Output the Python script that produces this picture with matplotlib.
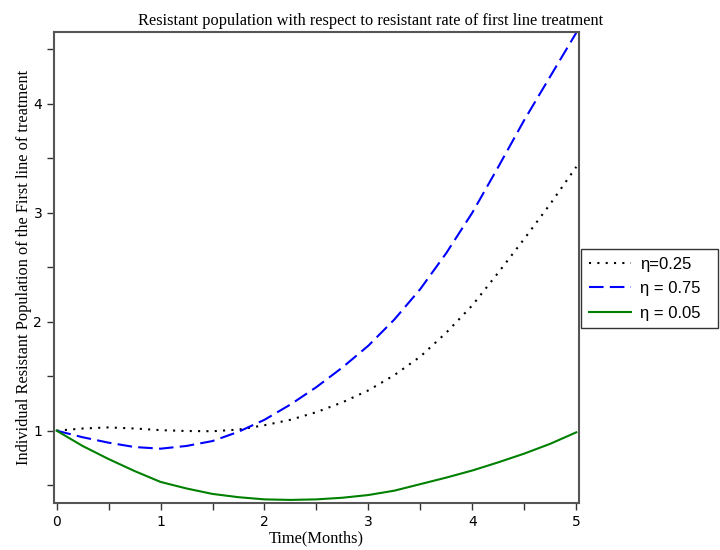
import numpy as np
import matplotlib
matplotlib.use('Agg')
import matplotlib.pyplot as plt
from matplotlib.ticker import MultipleLocator

# values (time in months)
t = [0, 0.25, 0.5, 0.75, 1.0, 1.25, 1.5, 1.75, 2.0, 2.25, 2.5,
     2.75, 3.0, 3.25, 3.5, 3.75, 4.0, 4.25, 4.5, 4.75, 5.0]
eta_025 = [1.00, 1.02, 1.03, 1.02, 1.005, 0.997, 0.995, 1.01, 1.05, 1.10, 1.17,
           1.26, 1.37, 1.51, 1.68, 1.90, 2.15, 2.45, 2.76, 3.08, 3.42]
eta_075 = [1.00, 0.94, 0.89, 0.85, 0.835, 0.86, 0.905, 0.99, 1.10, 1.24, 1.40,
           1.58, 1.78, 2.02, 2.30, 2.63, 3.00, 3.42, 3.85, 4.25, 4.65]
eta_005 = [1.00, 0.86, 0.74, 0.63, 0.53, 0.47, 0.42, 0.39, 0.37, 0.365, 0.37,
           0.385, 0.41, 0.45, 0.51, 0.57, 0.635, 0.71, 0.79, 0.88, 0.985]

serif = 'Liberation Serif'

fig = plt.figure(figsize=(7.2, 5.5), dpi=100)
ax = fig.add_axes([0.075, 0.0855, 0.729, 0.857])

ax.plot(t, eta_025, color='black', lw=1.5, linestyle=(0, (1, 3)), label='η=0.25')
ax.plot(t, eta_075, color='#0000ff', lw=1.5, linestyle=(0, (7, 3)), label='η = 0.75')
ax.plot(t, eta_005, color='#008000', lw=1.5, label='η = 0.05')

ax.set_xlim(-0.025, 5.025)
ax.set_ylim(0.337, 4.66)
ax.xaxis.set_major_locator(MultipleLocator(1))
ax.xaxis.set_minor_locator(MultipleLocator(0.5))
ax.yaxis.set_major_locator(MultipleLocator(1))
ax.yaxis.set_minor_locator(MultipleLocator(0.5))
ax.tick_params(which='both', direction='out', length=5, width=1, color='#333333',
               labelsize=10)

for s in ax.spines.values():
    s.set_color('#555555')
    s.set_linewidth(1.5)

# title sits centred over the whole picture, not just the axes
fig.text(0.515, 0.962, 'Resistant population with respect to resistant rate of first line treatment',
         fontfamily=serif, fontsize=11.8, ha='center', va='center')
ax.set_xlabel('Time(Months)', fontfamily=serif, fontsize=11.8, labelpad=1)
ax.set_ylabel('Individual Resistant Population of the First line of treatment',
              fontfamily=serif, fontsize=11.8, labelpad=1)

ax.legend(loc='upper left', bbox_to_anchor=(0.807, 0.3, 0.19, 0.247),
          bbox_transform=fig.transFigure, mode='expand',
          borderaxespad=0, fancybox=False, edgecolor='#333333', handlelength=2.5,
          handletextpad=0.55, labelspacing=0.56, borderpad=0.47,
          prop={'family': 'Liberation Sans', 'size': 12}, framealpha=1)

fig.savefig('out.png', dpi=100)
